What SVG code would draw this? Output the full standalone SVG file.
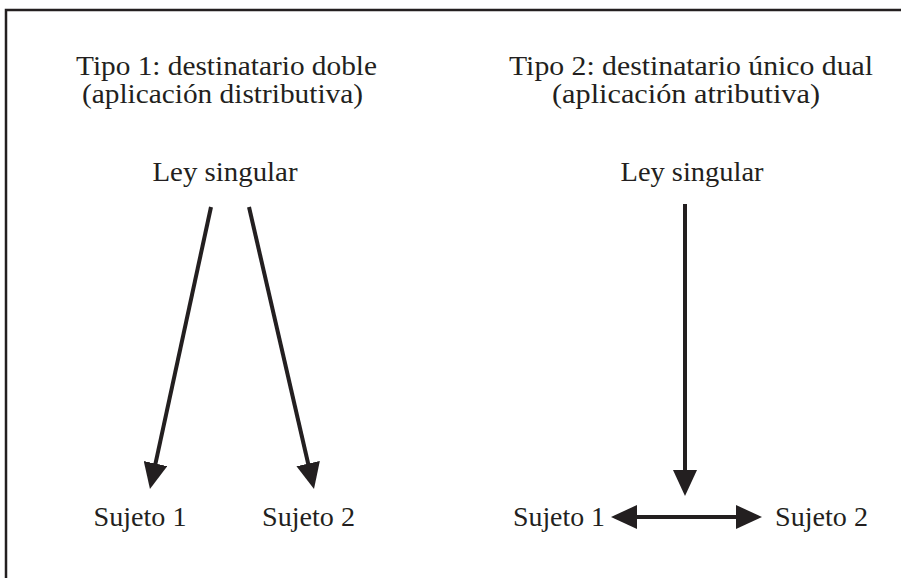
<svg xmlns="http://www.w3.org/2000/svg" width="901" height="578" viewBox="0 0 901 578">
<style>
.t{font-family:"Liberation Serif","DejaVu Serif",serif;font-size:28px;fill:#231f20;text-anchor:middle}
.c{stroke:#231f20;stroke-width:4;fill:none}
</style>
<defs>
<marker id="ah" markerUnits="userSpaceOnUse" markerWidth="26" markerHeight="24" refX="14" refY="12" orient="auto-start-reverse">
<path d="M0,0 L26,12 L0,24 z" fill="#231f20"/>
</marker>
</defs>
<rect width="901" height="578" fill="#fff"/>
<path d="M6,578 V10 H901" stroke="#231f20" stroke-width="2.5" fill="none"/>
<g id="titulo1">
<text class="t" x="226.5" y="75" textLength="301" lengthAdjust="spacingAndGlyphs">Tipo 1: destinatario doble</text>
<text class="t" x="222.5" y="103" textLength="281" lengthAdjust="spacingAndGlyphs">(aplicación distributiva)</text>
</g>
<g id="titulo2">
<text class="t" x="691" y="75" textLength="364" lengthAdjust="spacingAndGlyphs">Tipo 2: destinatario único dual</text>
<text class="t" x="686" y="103" textLength="268" lengthAdjust="spacingAndGlyphs">(aplicación atributiva)</text>
</g>
<g id="ley1"><text class="t" x="225" y="181" textLength="145" lengthAdjust="spacingAndGlyphs">Ley singular</text></g>
<g id="ley2"><text class="t" x="692" y="181" textLength="143" lengthAdjust="spacingAndGlyphs">Ley singular</text></g>
<g id="s1a"><text class="t" x="140" y="526" textLength="93" lengthAdjust="spacingAndGlyphs">Sujeto 1</text></g>
<g id="s2a"><text class="t" x="308.5" y="526" textLength="93" lengthAdjust="spacingAndGlyphs">Sujeto 2</text></g>
<g id="s1b"><text class="t" x="559" y="526" textLength="92" lengthAdjust="spacingAndGlyphs">Sujeto 1</text></g>
<g id="s2b"><text class="t" x="821.5" y="526" textLength="93" lengthAdjust="spacingAndGlyphs">Sujeto 2</text></g>
<g id="connectors">
<line class="c" x1="211" y1="207" x2="152.5" y2="477.3" marker-end="url(#ah)"/>
<line class="c" x1="249" y1="207" x2="311.3" y2="477.3" marker-end="url(#ah)"/>
<line class="c" x1="685" y1="204" x2="685" y2="484" marker-end="url(#ah)"/>
<line class="c" x1="623" y1="517" x2="750" y2="517" marker-start="url(#ah)" marker-end="url(#ah)"/>
</g>
</svg>
